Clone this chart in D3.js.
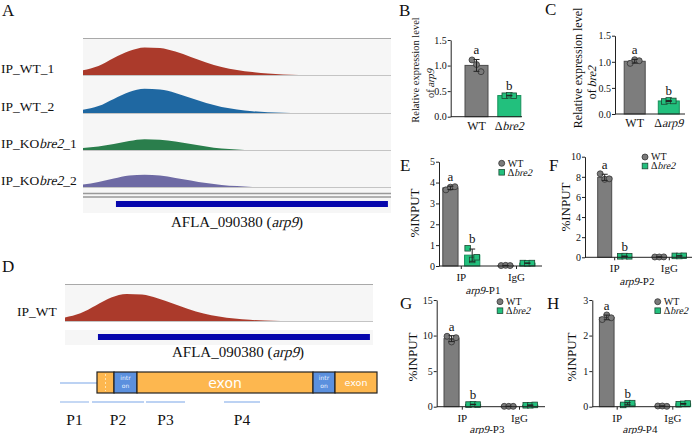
<!DOCTYPE html>
<html>
<head>
<meta charset="utf-8">
<script src="https://cdn.jsdelivr.net/npm/d3@7"></script>
<style>
  body { margin: 0; background: #fff; }
  svg { display: block; }
  text { font-family: "Liberation Serif", "Times New Roman", serif; fill: #111; white-space: pre; }
</style>
</head>
<body>
<svg id="fig" width="700" height="434"></svg>
<script>
// ---- coverage tracks (A, D): position in bins, coverage (% of track height)
var covPos   = [0, 50, 100, 150, 200, 250, 300, 350, 400, 450, 500, 550, 600, 650, 700];
var covWT1   = [16, 30, 57, 80, 92, 90, 78, 60, 42, 27, 17, 10, 5, 2, 0];
var covWT2   = [11, 23, 47, 70, 81, 78, 67, 50, 33, 20, 12, 6, 2.5, 1, 0];
var covKO1   = [7, 12, 20, 30, 36, 34, 28, 20, 12, 5, 2, 0, 0, 0, 0];
var covKO2   = [8, 17, 28, 38, 41, 38, 30, 22, 13, 7, 3, 0, 0, 0, 0];
var covWT    = [12, 26, 52, 78, 90, 88, 76, 58, 40, 25, 15, 8, 4, 1.5, 0];
var trackNames = [["IP_WT_1"], ["IP_WT_2"], ["IP_KO", "bre2", "_1"], ["IP_KO", "bre2", "_2"]];
var trackColors = ["#ab3a2b", "#1f68a2", "#2a7e4c", "#6e6aa4"];
var geneSpan = [107, 990];

// ---- gene model (D)
var modelParts = [
  { type: "exon", start: 0, end: 17, label: "" },
  { type: "intron", start: 17, end: 40, label: "intr|on" },
  { type: "exon", start: 40, end: 216, label: "exon" },
  { type: "intron", start: 216, end: 238, label: "intr|on" },
  { type: "exon", start: 238, end: 280, label: "exon" }
];
var primerNames = ["P1", "P2", "P3", "P4"];
var primerStart = [-37, -5, 49, 127];
var primerEnd   = [-8, 47, 88, 163];

// ---- qRT-PCR (B, C)
var exprGroupsB = ["WT", "bre2"];
var arp9WT  = [1.11, 1.02, 0.88];
var arp9KO  = [0.41, 0.42, 0.41];
var exprGroupsC = ["WT", "arp9"];
var bre2WT  = [0.97, 1.04, 1.02];
var bre2KO  = [0.24, 0.26, 0.25];
var exprTicks = [0, 0.5, 1.0, 1.5];

// ---- ChIP-qPCR (E-H)
var chipGroups = ["IP", "IgG"];
var genotypes = ["WT", "bre2"];
var p1IpWT = [3.65, 3.78, 3.8],  p1IpKO = [0.85, 0.29, 0.42];
var p1IgWT = [0.02, 0.03, 0.02], p1IgKO = [0.14, 0.13, 0.14];
var p2IpWT = [8.3, 7.75, 7.8],   p2IpKO = [0.1, 0.12, 0.1];
var p2IgWT = [0.03, 0.03, 0.04], p2IgKO = [0.14, 0.13, 0.15];
var p3IpWT = [9.9, 9.1, 9.7],    p3IpKO = [0.3, 0.35, 0.3];
var p3IgWT = [0.05, 0.05, 0.05], p3IgKO = [0.2, 0.2, 0.25];
var p4IpWT = [2.45, 2.58, 2.5],  p4IpKO = [0.05, 0.1, 0.1];
var p4IgWT = [0.02, 0.02, 0.01], p4IgKO = [0.07, 0.08, 0.09];
var ticksE = [0, 1, 2, 3, 4, 5];
var ticksF = [0, 2, 4, 6, 8, 10];
var ticksG = [0, 5, 10, 15];
var ticksH = [0, 1, 2, 3];

var GRAY = "#7d7d7d", GREEN = "#22c07d";
var SERIF = "Liberation Serif, Times New Roman, serif";
var svg = d3.select("#fig");

function letter(t, x, y) {
  svg.append("text").attr("x", x).attr("y", y).attr("font-size", 17).text(t);
}

// text made of plain / italic runs; italic is slanted by hand (serif italic face falls back to sans)
function richLabel(parent, x, y, size, parts, italicIdx, anchor, angle, dy) {
  var g = parent.append("g").attr("transform", "translate(" + x + "," + y + ")" + (angle ? " rotate(" + angle + ")" : ""));
  var nodes = parts.map(function (p) {
    return g.append("text").attr("font-size", size).attr("y", dy || 0).text(p);
  });
  var widths = nodes.map(function (n) { return n.node().getComputedTextLength(); });
  var cx = anchor === "middle" ? -d3.sum(widths) / 2 : 0;
  nodes.forEach(function (n, i) {
    if (italicIdx.indexOf(i) >= 0) n.attr("transform", "translate(" + cx + ",0) skewX(-14)");
    else n.attr("x", cx);
    cx += widths[i];
  });
  return g;
}

function covArea(xs, base, h) {
  var y = d3.scaleLinear().domain([0, 100]).range([base, base - h]);
  return d3.area()
    .x(function (d, i) { return xs(covPos[i]); })
    .y0(base)
    .y1(function (d) { return y(d); })
    .curve(d3.curveMonotoneX);
}

// ================= Panel A =================
letter("A", 2, 16);
var xA = d3.scaleLinear().domain([0, 1000]).range([83, 391]);
svg.append("rect").attr("x", 83).attr("y", 38).attr("width", 308).attr("height", 175).attr("fill", "#f6f6f6");
svg.append("line").attr("x1", 83).attr("x2", 391).attr("y1", 38.5).attr("y2", 38.5).attr("stroke", "#a9a9a9");
var baselines = [75, 113, 150, 187];
[covWT1, covWT2, covKO1, covKO2].forEach(function (vals, i) {
  var b = baselines[i];
  svg.append("path").datum(vals).attr("d", covArea(xA, b, 30)).attr("fill", trackColors[i]);
  svg.append("line").attr("x1", 83).attr("x2", 391).attr("y1", b + 0.5).attr("y2", b + 0.5).attr("stroke", "#c4c4c4");
  richLabel(svg, 1, b - 2, 13.5, trackNames[i], [1], "start");
});
svg.append("line").attr("x1", 83).attr("x2", 391).attr("y1", 193.5).attr("y2", 193.5).attr("stroke", "#999").attr("stroke-width", 1.3);
svg.append("line").attr("x1", 83).attr("x2", 391).attr("y1", 197).attr("y2", 197).attr("stroke", "#999").attr("stroke-width", 1.3);
svg.append("rect").attr("x", xA(geneSpan[0])).attr("y", 201).attr("width", xA(geneSpan[1]) - xA(geneSpan[0])).attr("height", 6).attr("fill", "#0707ad");
richLabel(svg, 237, 227, 15, ["AFLA_090380 (", "arp9", ")"], [1], "middle");

// ================= Panel D =================
letter("D", 2, 272);
var xD = d3.scaleLinear().domain([0, 1000]).range([65, 373]);
svg.append("rect").attr("x", 65).attr("y", 284).attr("width", 308).attr("height", 37).attr("fill", "#f6f6f6");
svg.append("rect").attr("x", 65).attr("y", 330).attr("width", 308).attr("height", 15).attr("fill", "#f6f6f6");
svg.append("line").attr("x1", 65).attr("x2", 373).attr("y1", 284.5).attr("y2", 284.5).attr("stroke", "#a9a9a9");
svg.append("path").datum(covWT).attr("d", covArea(xD, 321, 30)).attr("fill", trackColors[0]);
svg.append("line").attr("x1", 65).attr("x2", 373).attr("y1", 321.5).attr("y2", 321.5).attr("stroke", "#c4c4c4");
svg.append("text").attr("x", 17).attr("y", 316).attr("font-size", 13.5).text("IP_WT");
svg.append("rect").attr("x", xD(geneSpan[0])).attr("y", 334).attr("width", xD(geneSpan[1]) - xD(geneSpan[0])).attr("height", 6).attr("fill", "#0707ad");
richLabel(svg, 238, 357, 15, ["AFLA_090380 (", "arp9", ")"], [1], "middle");

// gene model
var xm = d3.scaleLinear().domain([0, 280]).range([97, 377]);
svg.append("line").attr("x1", xm(primerStart[0])).attr("x2", xm(0)).attr("y1", 383).attr("y2", 383)
  .attr("stroke", "#a6c3ef").attr("stroke-width", 1.3);
var parts = svg.selectAll("g.part").data(modelParts).enter().append("g").attr("class", "part");
parts.append("rect")
  .attr("x", function (d) { return xm(d.start); })
  .attr("y", 372)
  .attr("width", function (d) { return xm(d.end) - xm(d.start); })
  .attr("height", 21)
  .attr("fill", function (d) { return d.type === "exon" ? "#fdb74f" : "#5b90de"; })
  .attr("stroke", "#222").attr("stroke-width", 1.2);
svg.append("line").attr("x1", xm(8.5)).attr("x2", xm(8.5)).attr("y1", 374).attr("y2", 391)
  .attr("stroke", "#fde3b0").attr("stroke-dasharray", "2,2");
parts.each(function (d) {
  var g = d3.select(this), cx = (xm(d.start) + xm(d.end)) / 2;
  if (d.type === "intron") {
    d.label.split("|").forEach(function (s, i) {
      g.append("text").attr("x", cx).attr("y", 380 + i * 8).attr("text-anchor", "middle")
        .attr("font-size", 6).style("font-family", "DejaVu Sans, sans-serif").style("fill", "#e8f0ff").text(s);
    });
  } else if (d.label) {
    var big = (d.end - d.start) > 100;
    g.append("text").attr("x", cx).attr("y", big ? 387.5 : 386).attr("text-anchor", "middle")
      .attr("font-size", big ? 14 : 9.5).style("font-family", "DejaVu Sans, sans-serif").style("fill", "#fff").text(d.label);
  }
});
primerNames.forEach(function (p, i) {
  svg.append("line").attr("x1", xm(primerStart[i])).attr("x2", xm(primerEnd[i])).attr("y1", 402).attr("y2", 402)
    .attr("stroke", "#a6c3ef").attr("stroke-width", 1.3);
  svg.append("text").attr("x", (xm(primerStart[i]) + xm(primerEnd[i])) / 2).attr("y", 425)
    .attr("text-anchor", "middle").attr("font-size", 15.5).text(p);
});

// ================= bar helpers =================
function drawPoints(g, cx, vals, y, shape, fill) {
  var offs = [-4.5, 0, 4.5];
  vals.forEach(function (v, i) {
    if (shape === "circle") {
      g.append("circle").attr("cx", cx + offs[i]).attr("cy", y(v)).attr("r", 3)
        .attr("fill", "#7a7a7a").attr("stroke", "#333").attr("stroke-width", 0.8);
    } else {
      g.append("rect").attr("x", cx + offs[i] - 2.8).attr("y", y(v) - 2.8).attr("width", 5.6).attr("height", 5.6)
        .attr("fill", fill).attr("stroke", "#1c4a34").attr("stroke-width", 0.8);
    }
  });
}

function drawBar(g, cx, w, vals, y, fill, shape) {
  var m = d3.mean(vals), sd = d3.deviation(vals);
  g.append("rect").attr("x", cx - w / 2).attr("y", y(m)).attr("width", w).attr("height", Math.max(y(0) - y(m), 0.5))
    .attr("fill", fill).attr("stroke", fill === GRAY ? "#4a4a4a" : "#16915a").attr("stroke-width", 1);
  drawPoints(g, cx, vals, y, shape, fill);
  var eb = g.append("g").attr("stroke", "#222").attr("stroke-width", 1);
  eb.append("line").attr("x1", cx).attr("x2", cx).attr("y1", y(m + sd)).attr("y2", y(Math.max(m - sd, 0)));
  eb.append("line").attr("x1", cx - 3).attr("x2", cx + 3).attr("y1", y(m + sd)).attr("y2", y(m + sd));
  eb.append("line").attr("x1", cx - 3).attr("x2", cx + 3).attr("y1", y(Math.max(m - sd, 0))).attr("y2", y(Math.max(m - sd, 0)));
  return y(Math.max(m + sd, d3.max(vals)));
}

function yAxis(g, x0, y, ticks, fmt) {
  var ax = g.append("g").attr("transform", "translate(" + x0 + ",0)")
    .call(d3.axisLeft(y).tickValues(ticks).tickSize(3).tickSizeOuter(0).tickFormat(fmt));
  ax.attr("font-family", SERIF);
  ax.select(".domain").attr("stroke", "#222");
  ax.selectAll(".tick line").attr("stroke", "#222");
  ax.selectAll(".tick text").attr("font-size", 10).style("font-family", SERIF).attr("fill", "#222").attr("x", -4);
}

function rotLabel(g, cx, cy, size, parts, italicIdx) {
  richLabel(g, cx, cy, size, parts, italicIdx, "middle", -90, 0.35 * size);
}

// ================= Panels B, C =================
function exprPanel(c) {
  var g = svg.append("g");
  var y = d3.scaleLinear().domain([0, 1.5]).range([c.yBottom, c.yTop]);
  var x = d3.scalePoint().domain(c.groups).range(c.centers);
  var tops = [];
  tops.push(drawBar(g, x(c.groups[0]), c.bw, c.wt, y, GRAY, "circle"));
  tops.push(drawBar(g, x(c.groups[1]), c.bw, c.ko, y, GREEN, "square"));
  yAxis(g, c.x0, y, exprTicks, d3.format(".1f"));
  g.append("line").attr("x1", c.x0).attr("x2", c.x1).attr("y1", c.yBottom).attr("y2", c.yBottom).attr("stroke", "#222");
  ["a", "b"].forEach(function (l, i) {
    g.append("text").attr("x", x(c.groups[i])).attr("y", tops[i] - 5).attr("text-anchor", "middle").attr("font-size", 13).text(l);
  });
  g.append("text").attr("x", x(c.groups[0])).attr("y", c.yBottom + 13).attr("text-anchor", "middle").attr("font-size", 12).text(c.groups[0]);
  richLabel(g, x(c.groups[1]), c.yBottom + 13, 12, ["\u0394", c.groups[1]], [1], "middle");
  rotLabel(g, c.lab1[0], c.lab1[1], c.labSize, ["Relative expression level"], []);
  rotLabel(g, c.lab2[0], c.lab2[1], c.labSize, ["of ", c.gene], [1]);
}
letter("B", 399, 16);
exprPanel({ groups: exprGroupsB, wt: arp9WT, ko: arp9KO, yBottom: 116.7, yTop: 40, x0: 450.7, x1: 522,
  centers: [476.5, 509.3], bw: 23, lab1: [415, 70], lab2: [430, 83], labSize: 10.5, gene: "arp9" });
letter("C", 545, 15);
exprPanel({ groups: exprGroupsC, wt: bre2WT, ko: bre2KO, yBottom: 114, yTop: 35.7, x0: 615, x1: 685,
  centers: [634.7, 668.8], bw: 21, lab1: [578, 68], lab2: [592, 82], labSize: 12, gene: "bre2" });

// ================= Panels E-H =================
function chipPanel(c) {
  var g = svg.append("g");
  var y = d3.scaleLinear().domain([0, c.ticks[c.ticks.length - 1]]).range([c.yBottom, c.yTop]);
  var x = d3.scalePoint().domain(chipGroups).range(c.centers);
  var inner = d3.scaleBand().domain(genotypes).range([-c.half, c.half]).paddingInner(0.3);
  var bw = inner.bandwidth();
  var tops = [];
  chipGroups.forEach(function (grp, gi) {
    genotypes.forEach(function (gt, ti) {
      var cx = x(grp) + inner(gt) + bw / 2;
      var t = drawBar(g, cx, bw, c.data[gi][ti], y, ti === 0 ? GRAY : GREEN, ti === 0 ? "circle" : "square");
      if (gi === 0) tops.push([cx, t]);
    });
  });
  yAxis(g, c.x0, y, c.ticks, d3.format("d"));
  g.append("line").attr("x1", c.x0).attr("x2", c.x1).attr("y1", c.yBottom).attr("y2", c.yBottom).attr("stroke", "#222");
  chipGroups.forEach(function (grp) {
    g.append("line").attr("x1", x(grp)).attr("x2", x(grp)).attr("y1", c.yBottom).attr("y2", c.yBottom + 3).attr("stroke", "#222");
    g.append("text").attr("x", x(grp)).attr("y", c.yBottom + 15).attr("text-anchor", "middle").attr("font-size", 11).text(grp);
  });
  richLabel(g, c.xlabX, Math.min(c.yBottom + 28, 433), 11, ["arp9", "-" + c.primer], [0], "middle");
  ["a", "b"].forEach(function (l, i) {
    g.append("text").attr("x", tops[i][0]).attr("y", tops[i][1] - 5).attr("text-anchor", "middle").attr("font-size", 13).text(l);
  });
  rotLabel(g, c.ylab[0], c.ylab[1], 13, ["%INPUT"], []);
  // legend
  var lx = c.legend[0], ly = c.legend[1];
  g.append("circle").attr("cx", lx).attr("cy", ly).attr("r", 3).attr("fill", "#7a7a7a").attr("stroke", "#333").attr("stroke-width", 0.8);
  g.append("text").attr("x", lx + 6).attr("y", ly + 3.3).attr("font-size", 10).text(genotypes[0]);
  g.append("rect").attr("x", lx - 2.8).attr("y", ly + 9 - 2.8).attr("width", 5.6).attr("height", 5.6)
    .attr("fill", GREEN).attr("stroke", "#1c4a34").attr("stroke-width", 0.8);
  richLabel(g, lx + 6, ly + 12.3, 10, ["\u0394", genotypes[1]], [1], "start");
}

letter("E", 400, 171);
chipPanel({ ticks: ticksE, yBottom: 266, yTop: 161.7, x0: 439, x1: 542, centers: [461.3, 516.5], half: 18.5,
  data: [[p1IpWT, p1IpKO], [p1IgWT, p1IgKO]], ylab: [414, 213], legend: [501.7, 163.3], xlabX: 483, primer: "P1" });
letter("F", 549, 171);
chipPanel({ ticks: ticksF, yBottom: 257.3, yTop: 156.7, x0: 585, x1: 692, centers: [614.7, 669.3], half: 17,
  data: [[p2IpWT, p2IpKO], [p2IgWT, p2IgKO]], ylab: [565, 207], legend: [645, 157], xlabX: 637, primer: "P2" });
letter("G", 400, 309);
chipPanel({ ticks: ticksG, yBottom: 406.7, yTop: 300, x0: 436.7, x1: 545, centers: [462.3, 519.5], half: 18.3,
  data: [[p3IpWT, p3IpKO], [p3IgWT, p3IgKO]], ylab: [412, 357], legend: [500, 301.7], xlabX: 487, primer: "P3" });
letter("H", 547, 309);
chipPanel({ ticks: ticksH, yBottom: 406.7, yTop: 300, x0: 592.3, x1: 690, centers: [617.2, 672.8], half: 17.8,
  data: [[p4IpWT, p4IpKO], [p4IgWT, p4IgKO]], ylab: [571, 357], legend: [657.7, 301.7], xlabX: 640, primer: "P4" });
</script>
</body>
</html>
